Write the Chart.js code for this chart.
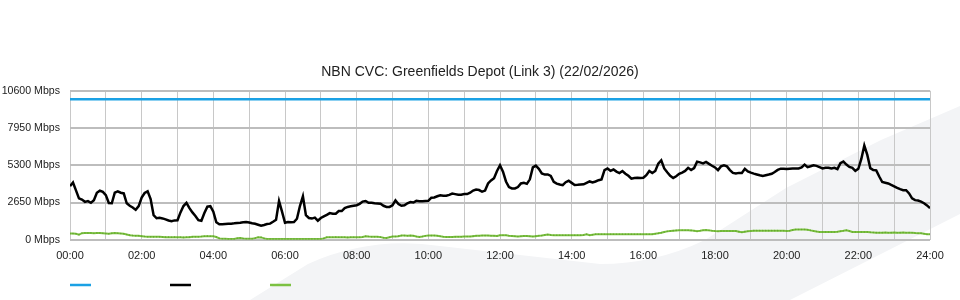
<!DOCTYPE html>
<html>
<head>
<meta charset="utf-8">
<script src="https://cdn.jsdelivr.net/npm/chart.js@4.4.1/dist/chart.umd.min.js"></script>
<style>
  html, body { margin: 0; padding: 0; background: #ffffff; }
  #wrap { position: relative; width: 960px; height: 300px; }
</style>
</head>
<body>
<div id="wrap"><canvas id="c" width="960" height="300"></canvas></div>
<script>
// ---- data (5-minute samples, 00:00 .. 24:00) ----
const chartTitle = 'NBN CVC: Greenfields Depot (Link 3) (22/02/2026)';
const xTickLabels = ['00:00','02:00','04:00','06:00','08:00','10:00','12:00','14:00','16:00','18:00','20:00','22:00','24:00'];
const yTickValues = [0, 2650, 5300, 7950, 10600];
const capacityTimes = [0, 1440];
const capacityMbps = [10000, 10000];
const downloadMbps = [
  3820, 4080, 3520, 2950, 2860, 2700, 2750, 2630, 2820, 3350, 3490, 3410,
  3180, 2620, 2600, 3350, 3450, 3350, 3300, 2600, 2420, 2300, 2130, 2400,
  3000, 3330, 3450, 2900, 1750, 1530, 1560, 1520, 1450, 1370, 1330, 1380,
  1390, 1950, 2400, 2630, 2250, 1950, 1700, 1400, 1350, 1900, 2360, 2390,
  2000, 1250, 1110, 1110, 1130, 1150, 1150, 1170, 1200, 1220, 1250, 1260,
  1230, 1180, 1140, 1070, 1000, 1050, 1120, 1150, 1280, 1420, 2750, 2000,
  1210, 1260, 1250, 1260, 1500, 2400, 3100, 1750, 1550, 1510, 1580, 1360,
  1550, 1670, 1770, 1900, 1850, 1850, 2040, 2040, 2250, 2340, 2380, 2420,
  2460, 2560, 2720, 2760, 2630, 2630, 2600, 2580, 2560, 2420, 2340, 2340,
  2460, 2800, 2550, 2420, 2450, 2600, 2680, 2650, 2770, 2750, 2750, 2760,
  2770, 3000, 3010, 3100, 3170, 3130, 3130, 3200, 3290, 3250, 3200, 3210,
  3250, 3250, 3350, 3500, 3570, 3540, 3420, 3500, 4010, 4220, 4380, 4900,
  5300, 4850, 4150, 3750, 3650, 3650, 3750, 4010, 4050, 3980, 4300, 5150,
  5280, 5050, 4720, 4640, 4650, 4550, 4130, 4000, 3930, 3890, 4100, 4200,
  4050, 3900, 3910, 3930, 3950, 4050, 4150, 4080, 4150, 4240, 4300, 4950,
  5070, 4910, 5000, 4850, 4750, 4890, 4700, 4550, 4350, 4400, 4420, 4400,
  4420, 4600, 4900, 4750, 4900, 5420, 5650, 5080, 4800, 4550, 4400, 4520,
  4690, 4780, 4900, 5120, 4960, 5100, 5560, 5510, 5440, 5540, 5400, 5270,
  5150, 4960, 5220, 5300, 5220, 4960, 4760, 4720, 4760, 4750, 5050, 4870,
  4780, 4710, 4650, 4590, 4540, 4590, 4640, 4700, 4820, 4970, 5060, 5050,
  5030, 5060, 5080, 5080, 5080, 5150, 5350, 5170, 5230, 5300, 5260, 5170,
  5080, 5120, 5130, 5080, 5120, 5030, 5450, 5560, 5350, 5180, 5120, 4910,
  5050, 5750, 6700, 6040, 5100, 4960, 4940, 4500, 4110, 4060, 4010, 3900,
  3800, 3690, 3600, 3530, 3530, 3300, 2950, 2820, 2790, 2720, 2600, 2450,
  2250
];
const uploadMbps = [
  440, 440, 430, 370, 470, 480, 480, 480, 470, 480, 480, 470,
  450, 430, 460, 480, 470, 450, 430, 380, 330, 300, 290, 290,
  260, 230, 220, 220, 210, 220, 210, 200, 190, 190, 180, 190,
  180, 180, 170, 180, 190, 210, 220, 220, 230, 250, 260, 250,
  250, 200, 100, 80, 70, 60, 60, 60, 110, 130, 90, 80,
  80, 80, 120, 180, 170, 100, 60, 60, 60, 60, 60, 60,
  60, 60, 60, 60, 60, 60, 60, 60, 60, 60, 60, 60,
  60, 100, 180, 180, 180, 190, 180, 180, 180, 170, 180, 180,
  180, 180, 200, 250, 230, 220, 220, 220, 190, 150, 130, 180,
  230, 230, 260, 300, 300, 290, 300, 290, 240, 200, 230, 280,
  300, 300, 300, 290, 250, 220, 200, 200, 200, 210, 220, 220,
  230, 230, 240, 260, 280, 290, 300, 300, 300, 290, 280, 270,
  320, 320, 320, 290, 270, 250, 230, 250, 270, 270, 250, 230,
  260, 290, 300, 340, 370, 340, 320, 320, 320, 320, 320, 320,
  320, 320, 320, 320, 340, 390, 320, 360, 390, 390, 390, 390,
  390, 390, 390, 390, 390, 390, 390, 390, 390, 390, 390, 390,
  390, 390, 390, 400, 430, 460, 500, 560, 600, 630, 650, 670,
  680, 680, 680, 680, 670, 640, 610, 640, 680, 700, 670, 640,
  620, 610, 620, 630, 630, 630, 630, 620, 580, 540, 580, 610,
  630, 650, 650, 650, 650, 650, 650, 650, 650, 650, 640, 640,
  630, 640, 690, 730, 730, 730, 730, 720, 670, 630, 590, 560,
  560, 560, 560, 560, 560, 570, 610, 640, 680, 620, 560, 560,
  560, 560, 560, 550, 530, 520, 510, 510, 510, 520, 500, 510,
  520, 500, 510, 520, 500, 510, 500, 480, 470, 460, 430, 400,
  390
];
const sampleMinutes = downloadMbps.map((_, i) => i * 5);

// ---- helpers ----
const toPoints = (xs, ys) => ys.map((y, i) => ({ x: xs[i], y }));

// decorative background watermark (not data)
const watermark = {
  id: 'watermark',
  beforeDraw(chart) {
    const ctx = chart.ctx;
    ctx.save();
    ctx.fillStyle = '#f3f4f6';
    ctx.beginPath();
    ctx.moveTo(250, 300);
    ctx.lineTo(308, 264);
    ctx.quadraticCurveTo(370, 236, 440, 246);
    ctx.lineTo(600, 264);
    ctx.quadraticCurveTo(655, 264, 705, 240);
    ctx.lineTo(786, 188);
    ctx.lineTo(881, 140);
    ctx.lineTo(960, 106);
    ctx.lineTo(960, 214);
    ctx.lineTo(790, 300);
    ctx.closePath();
    ctx.fill();
    ctx.restore();
  }
};

// line-swatch legend (no text in the reference)
const lineLegend = {
  id: 'lineLegend',
  afterDraw(chart) {
    const ctx = chart.ctx;
    const left = chart.chartArea.left;
    const y = chart.height - 15;
    ctx.save();
    chart.data.datasets.forEach((ds, i) => {
      ctx.strokeStyle = ds.borderColor;
      ctx.lineWidth = 2.5;
      ctx.beginPath();
      ctx.moveTo(left + i * 100, y);
      ctx.lineTo(left + i * 100 + 21, y);
      ctx.stroke();
    });
    ctx.restore();
  }
};

const fmtMin = m => xTickLabels[m / 120];

new Chart(document.getElementById('c'), {
  type: 'line',
  data: {
    datasets: [
      {
        label: 'Capacity',
        data: toPoints(capacityTimes, capacityMbps),
        borderColor: '#1ba1e4',
        borderWidth: 2.5,
        pointRadius: 0,
        tension: 0
      },
      {
        label: 'Download',
        data: toPoints(sampleMinutes, downloadMbps),
        borderColor: '#000000',
        borderWidth: 2.5,
        pointRadius: 0,
        tension: 0
      },
      {
        label: 'Upload',
        data: toPoints(sampleMinutes, uploadMbps),
        borderColor: '#7cc142',
        borderWidth: 2,
        pointRadius: 0.8,
        pointBackgroundColor: '#64a82e',
        pointBorderWidth: 0,
        tension: 0
      }
    ]
  },
  options: {
    responsive: false,
    animation: false,
    devicePixelRatio: 1,
    layout: { padding: { top: 64, right: 0, bottom: 27, left: 0 } },
    plugins: {
      legend: { display: false },
      tooltip: { enabled: false },
      title: {
        display: true,
        text: chartTitle,
        color: '#222222',
        font: { family: 'Liberation Sans, Arial, sans-serif', size: 14, weight: 'normal' },
        padding: { top: 0, bottom: 10 }
      }
    },
    scales: {
      x: {
        type: 'linear',
        min: 0,
        max: 1440,
        border: { display: false },
        afterFit: s => { s.paddingRight = 30; },
        grid: { color: '#c8c8c8', lineWidth: 1, drawTicks: false },
        ticks: {
          stepSize: 60,
          autoSkip: false,
          maxRotation: 0,
          padding: 10,
          color: '#222222',
          font: { family: 'Liberation Sans, Arial, sans-serif', size: 11 },
          callback: v => (v % 120 === 0 ? fmtMin(v) : '')
        }
      },
      y: {
        min: 0,
        max: 10600,
        border: { display: false },
        afterFit: s => { s.width = 70; },
        afterBuildTicks: s => { s.ticks = yTickValues.map(v => ({ value: v })); },
        grid: { color: '#bdbdbd', lineWidth: 2, drawTicks: false },
        ticks: {
          padding: 10,
          color: '#222222',
          font: { family: 'Liberation Sans, Arial, sans-serif', size: 10.6 },
          callback: v => v + ' Mbps'
        }
      }
    }
  },
  plugins: [watermark, lineLegend]
});
</script>
</body>
</html>
